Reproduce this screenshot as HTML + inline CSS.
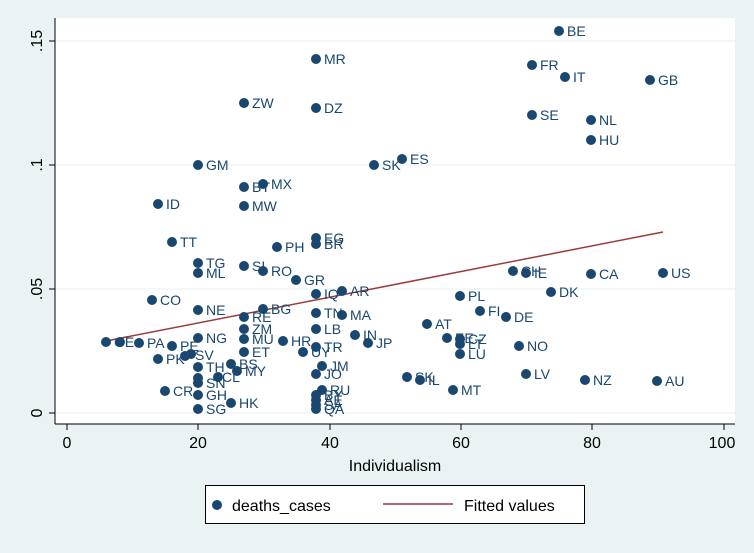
<!DOCTYPE html>
<html><head><style>
html,body{margin:0;padding:0;background:#eaf2f3;}
text{font-family:"Liberation Sans",sans-serif;}
</style></head><body>
<svg width="754" height="548" viewBox="0 0 754 548" xmlns="http://www.w3.org/2000/svg">
<rect width="754" height="548" fill="#eaf2f3"/>
<rect x="55" y="18" width="680" height="406" fill="#fff"/>
<g stroke="#eaf2f3" stroke-width="1.2">
<line x1="55" x2="735" y1="41" y2="41"/><line x1="55" x2="735" y1="165" y2="165"/>
<line x1="55" x2="735" y1="289" y2="289"/><line x1="55" x2="735" y1="413" y2="413"/>
</g>
<g stroke="#000" stroke-width="1">
<line x1="55" y1="18" x2="55" y2="424"/><line x1="55" y1="424" x2="735" y2="424"/>
<line x1="49" x2="55" y1="41" y2="41"/><line x1="49" x2="55" y1="165" y2="165"/>
<line x1="49" x2="55" y1="289" y2="289"/><line x1="49" x2="55" y1="413" y2="413"/>
<line y1="424" y2="430" x1="67" x2="67"/><line y1="424" y2="430" x1="198" x2="198"/>
<line y1="424" y2="430" x1="330" x2="330"/><line y1="424" y2="430" x1="461" x2="461"/>
<line y1="424" y2="430" x1="592" x2="592"/><line y1="424" y2="430" x1="724" x2="724"/>
</g>
<g font-size="16" fill="#000" text-anchor="middle">
<text transform="translate(42,41) rotate(-90)">.15</text>
<text transform="translate(42,165) rotate(-90)">.1</text>
<text transform="translate(42,289) rotate(-90)">.05</text>
<text transform="translate(42,413) rotate(-90)">0</text>
<text x="67" y="448">0</text><text x="198" y="448">20</text><text x="330" y="448">40</text>
<text x="461" y="448">60</text><text x="592" y="448">80</text><text x="722" y="448">100</text>
<text x="395" y="471">Individualism</text>
</g>
<line x1="106" y1="341" x2="663" y2="232" stroke="#9a3b3b" stroke-width="1.5"/>
<g fill="#1a476f" font-size="14">
<script type="text/plain"></script>
</g>
<g id="pts" fill="#1a476f"></g>
<g fill="#1a476f" font-size="14">
<circle cx="559" cy="31" r="5"/><text x="567" y="36">BE</text>
<circle cx="316" cy="59" r="5"/><text x="324" y="64">MR</text>
<circle cx="532" cy="65" r="5"/><text x="540" y="70">FR</text>
<circle cx="565" cy="77" r="5"/><text x="573" y="82">IT</text>
<circle cx="650" cy="80" r="5"/><text x="658" y="85">GB</text>
<circle cx="244" cy="103" r="5"/><text x="252" y="108">ZW</text>
<circle cx="316" cy="108" r="5"/><text x="324" y="113">DZ</text>
<circle cx="532" cy="115" r="5"/><text x="540" y="120">SE</text>
<circle cx="591" cy="120" r="5"/><text x="599" y="125">NL</text>
<circle cx="591" cy="140" r="5"/><text x="599" y="145">HU</text>
<circle cx="402" cy="159" r="5"/><text x="410" y="164">ES</text>
<circle cx="374" cy="165" r="5"/><text x="382" y="170">SK</text>
<circle cx="198" cy="165" r="5"/><text x="206" y="170">GM</text>
<circle cx="244" cy="187" r="5"/><text x="252" y="192">BT</text>
<circle cx="263" cy="184" r="5"/><text x="271" y="189">MX</text>
<circle cx="158" cy="204" r="5"/><text x="166" y="209">ID</text>
<circle cx="244" cy="206" r="5"/><text x="252" y="211">MW</text>
<circle cx="172" cy="242" r="5"/><text x="180" y="247">TT</text>
<circle cx="316" cy="238" r="5"/><text x="324" y="243">EG</text>
<circle cx="316" cy="244" r="5"/><text x="324" y="249">BR</text>
<circle cx="277" cy="247" r="5"/><text x="285" y="252">PH</text>
<circle cx="198" cy="263" r="5"/><text x="206" y="268">TG</text>
<circle cx="244" cy="266" r="5"/><text x="252" y="271">SI</text>
<circle cx="198" cy="273" r="5"/><text x="206" y="278">ML</text>
<circle cx="263" cy="271" r="5"/><text x="271" y="276">RO</text>
<circle cx="296" cy="280" r="5"/><text x="304" y="285">GR</text>
<circle cx="513" cy="271" r="5"/><text x="521" y="276">CH</text>
<circle cx="526" cy="273" r="5"/><text x="534" y="278">IE</text>
<circle cx="591" cy="274" r="5"/><text x="599" y="279">CA</text>
<circle cx="663" cy="273" r="5"/><text x="671" y="278">US</text>
<circle cx="152" cy="300" r="5"/><text x="160" y="305">CO</text>
<circle cx="342" cy="291" r="5"/><text x="350" y="296">AR</text>
<circle cx="316" cy="294" r="5"/><text x="324" y="299">IQ</text>
<circle cx="460" cy="296" r="5"/><text x="468" y="301">PL</text>
<circle cx="551" cy="292" r="5"/><text x="559" y="297">DK</text>
<circle cx="198" cy="310" r="5"/><text x="206" y="315">NE</text>
<circle cx="263" cy="309" r="5"/><text x="271" y="314">BG</text>
<circle cx="316" cy="313" r="5"/><text x="324" y="318">TN</text>
<circle cx="342" cy="315" r="5"/><text x="350" y="320">MA</text>
<circle cx="480" cy="311" r="5"/><text x="488" y="316">FI</text>
<circle cx="506" cy="317" r="5"/><text x="514" y="322">DE</text>
<circle cx="244" cy="317" r="5"/><text x="252" y="322">RE</text>
<circle cx="244" cy="329" r="5"/><text x="252" y="334">ZM</text>
<circle cx="316" cy="329" r="5"/><text x="324" y="334">LB</text>
<circle cx="427" cy="324" r="5"/><text x="435" y="329">AT</text>
<circle cx="355" cy="335" r="5"/><text x="363" y="340">IN</text>
<circle cx="198" cy="338" r="5"/><text x="206" y="343">NG</text>
<circle cx="244" cy="339" r="5"/><text x="252" y="344">MU</text>
<circle cx="283" cy="341" r="5"/><text x="291" y="346">HR</text>
<circle cx="106" cy="342" r="5"/><circle cx="120" cy="342" r="5"/><text x="114" y="347">GE</text>
<circle cx="139" cy="343" r="5"/><text x="147" y="348">PA</text>
<circle cx="172" cy="346" r="5"/><text x="180" y="351">PE</text>
<circle cx="316" cy="347" r="5"/><text x="324" y="352">TR</text>
<circle cx="303" cy="352" r="5"/><text x="311" y="357">UY</text>
<circle cx="368" cy="343" r="5"/><text x="376" y="348">JP</text>
<circle cx="447" cy="338" r="5"/><text x="455" y="343">EE</text>
<circle cx="460" cy="339" r="5"/><text x="468" y="344">CZ</text>
<circle cx="460" cy="344" r="5"/><text x="468" y="349">LT</text>
<circle cx="460" cy="354" r="5"/><text x="468" y="359">LU</text>
<circle cx="519" cy="346" r="5"/><text x="527" y="351">NO</text>
<circle cx="158" cy="359" r="5"/><text x="166" y="364">PK</text>
<circle cx="185" cy="356" r="5"/><circle cx="191" cy="354" r="5"/><text x="195" y="360">SV</text>
<circle cx="244" cy="352" r="5"/><text x="252" y="357">ET</text>
<circle cx="231" cy="364" r="5"/><text x="239" y="369">BS</text>
<circle cx="198" cy="367" r="5"/><text x="206" y="372">TH</text>
<circle cx="237" cy="371" r="5"/><text x="245" y="376">MY</text>
<circle cx="322" cy="366" r="5"/><text x="330" y="371">JM</text>
<circle cx="198" cy="378" r="5"/><circle cx="218" cy="377" r="5"/><text x="222" y="382">CL</text>
<circle cx="198" cy="383" r="5"/><text x="206" y="388">SN</text>
<circle cx="316" cy="374" r="5"/><text x="324" y="379">JO</text>
<circle cx="407" cy="377" r="5"/><text x="415" y="382">SK</text>
<circle cx="420" cy="380" r="5"/><text x="428" y="385">IL</text>
<circle cx="526" cy="374" r="5"/><text x="534" y="379">LV</text>
<circle cx="585" cy="380" r="5"/><text x="593" y="385">NZ</text>
<circle cx="657" cy="381" r="5"/><text x="665" y="386">AU</text>
<circle cx="165" cy="391" r="5"/><text x="173" y="396">CR</text>
<circle cx="198" cy="395" r="5"/><text x="206" y="400">GH</text>
<circle cx="453" cy="390" r="5"/><text x="461" y="395">MT</text>
<circle cx="322" cy="390" r="5"/><text x="330" y="395">RU</text>
<circle cx="231" cy="403" r="5"/><text x="239" y="408">HK</text>
<circle cx="198" cy="409" r="5"/><text x="206" y="414">SG</text>
<circle cx="316" cy="395" r="5"/><text x="324" y="400">BY</text>
<circle cx="316" cy="400" r="5"/><text x="324" y="405">AE</text>
<circle cx="316" cy="405" r="5"/><text x="324" y="410">SA</text>
<circle cx="316" cy="409" r="5"/><text x="324" y="414">QA</text>
</g>
<rect x="205.5" y="485.5" width="379" height="38" fill="#fff" stroke="#000"/>
<circle cx="217" cy="505" r="5" fill="#1a476f"/>
<text x="232" y="511" font-size="16">deaths_cases</text>
<line x1="383" x2="453" y1="504" y2="504" stroke="#9a3b3b" stroke-width="1.5"/>
<text x="464" y="511" font-size="16">Fitted values</text>
</svg>
</body></html>
